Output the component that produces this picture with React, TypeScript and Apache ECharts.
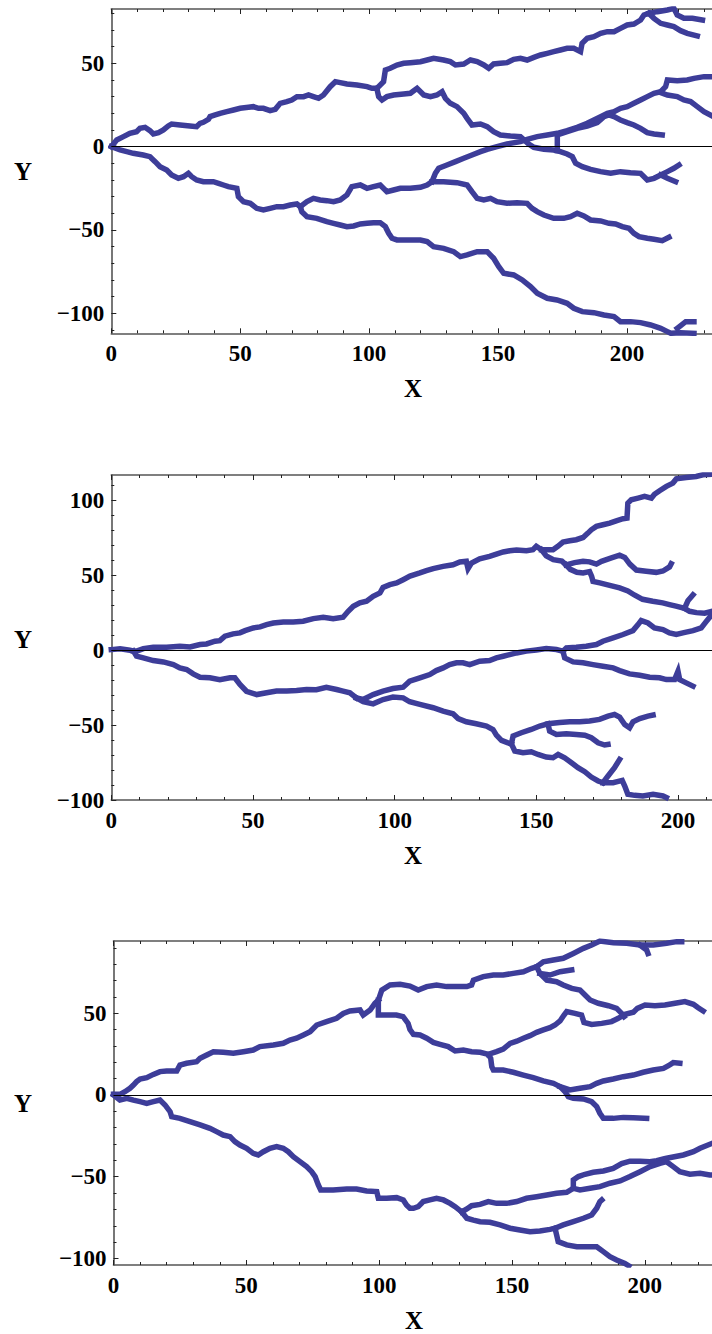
import React, { useEffect, useRef } from "react";
import * as echarts from "echarts";

// ================= DATA =================
// Tick labels
const X_TICK_LABELS = [0, 50, 100, 150, 200];
const Y_TICK_LABELS_1 = [-100, -50, 0, 50];
const Y_TICK_LABELS_2 = [-100, -50, 0, 50, 100];
const Y_TICK_LABELS_3 = [-100, -50, 0, 50];

// ---------- Panel 1 branches ----------
const p1Up = [[0,0],[2.1,4],[4.7,6],[7.2,8],[9.8,9],[11.1,11],[13.1,11.6],[15,9.6],[16.3,7.6],[18.3,8.4],[20.2,10],[22.1,12.4],[23.4,13.6],[26.7,13],[30.5,12.4],[33.1,12],[34.4,14],[35.7,14.6],[37.7,16.4],[38.3,18],[40.3,19],[42.2,20],[44.8,21],[47.4,22],[50,23],[53.2,23.6],[55.1,24],[57.1,23],[59,23],[61.6,21.6],[63.6,22.4],[65.5,26],[68.1,27],[70,28],[72,30],[74.6,30],[76.5,31],[78.4,30],[80.4,29],[82.3,31],[84.9,36],[86.9,39],[88.8,38.4],[91.4,37.6],[95.3,37],[99.2,36],[101.1,35],[103,35]];
const p1UpHigh = [[103,35],[105.6,39],[106.3,46],[108.2,47],[110.8,49],[113.4,50],[116,50.4],[119.9,51],[122.5,52],[125,53],[128.9,52],[131.5,51],[133.5,49],[136.7,49.6],[139.3,52],[141.9,51],[144.5,49],[146.4,47],[148.3,49.6],[150.9,50],[153.5,50.4],[156.1,52.4],[158.7,53],[161.3,52],[163.9,53.6],[166.5,55],[169.1,56],[171.6,57],[174.2,58],[176.8,59],[179.4,59],[182,57],[182.6,62],[184.6,65],[187.2,66],[189.8,68],[192.4,69],[195,69],[197.5,71],[200.1,73],[202.7,73.6],[205.3,76],[206.6,79],[208.5,80]];
const p1TopA = [[208.5,80],[211.8,81],[215.7,82],[218.2,83],[219.5,79],[222.1,77],[225.4,77],[229.3,76]];
const p1TopB = [[208.5,80],[210.5,77],[213.1,74],[215.7,73],[218.2,72],[220.8,69.6],[223.4,68],[227.3,66.4]];
const p1UpMid = [[103,35],[103.7,30],[105,28],[106.9,30],[109.5,31],[113.4,31.6],[116,32],[118.6,35],[121.2,31],[123.8,30],[126.3,31],[128.3,33],[129.6,29],[131.5,26],[134.1,24],[136.7,20],[138,17],[139.9,13],[143.2,13.6],[145.8,12],[148.3,9],[150.9,7],[154.8,6.4],[158.7,6],[161.9,1.6],[163.9,-0.4],[167.8,-1.6],[171.6,-2],[174.2,-3],[176.8,-4.4],[178.8,-6],[180.1,-10],[182.7,-12],[185.9,-13.6],[189.8,-15],[193.7,-16],[197.5,-15],[201.4,-15.6],[205.3,-16],[207.9,-20],[210.5,-19],[213.1,-17],[215.7,-15],[218.2,-13],[220.2,-11]];
const p1UpMidFork = [[213.1,-17],[215.7,-19],[218.9,-21]];
const p1UpMidRise = [[173,-2.3],[173,4],[173,7],[176.8,9],[180.7,11],[184.6,12.4],[188.5,14.4],[191.1,18],[193,19],[195,18],[197.5,16],[200.1,14.4],[202.7,13],[205.3,11],[207.9,8.4],[210.5,7.6],[213.7,7]];
const p1Down = [[0,0],[3.4,-2],[6,-3],[8.5,-4],[12.4,-5],[15,-6],[17,-9],[18.9,-12],[21.5,-14],[23.4,-17],[26,-19],[28,-18],[29.9,-16],[31.2,-18],[33.1,-20],[35.7,-21],[39.6,-21],[41.6,-22],[43.5,-23],[45.4,-24],[48.7,-25],[49.3,-30],[51.3,-33],[53.9,-34],[56.4,-37],[59,-38],[61.6,-37],[64.2,-36],[66.8,-36],[69.4,-35],[72,-34.4],[73.3,-36]];
const p1DownUpper = [[73.3,-36],[75.9,-33],[78.4,-31],[81,-32],[83.6,-32.4],[86.2,-33],[88.8,-32],[91.4,-29],[93.3,-24],[96.6,-23],[99.2,-25],[101.7,-24],[104.3,-23],[106.9,-27],[109.5,-26],[112.1,-25],[116,-25],[119.9,-24.4],[122.5,-23],[124.4,-21]];
const p1Rise = [[124.4,-21],[125.7,-16],[127,-13],[130.2,-11],[133.5,-9],[136.7,-7],[139.9,-5],[143.2,-3],[145.8,-1.6],[149.6,0],[153.5,1.6],[158.7,3],[161.3,4.4],[165.2,6],[169.1,7],[173,8],[176.8,9.6],[180.7,11.6],[184.6,14],[187.2,16],[189.8,18],[192.4,20],[195,21],[197.5,23],[200.1,24],[202.7,26],[205.3,28],[207.9,30],[210.5,32],[213.1,33],[215,36],[215.7,40],[219.5,39.6],[223.4,40],[226,41],[229.9,42],[233.5,42]];
const p1RiseFork = [[213.1,32.4],[215.7,31],[219.5,30],[222.1,28],[224.7,27],[227.3,24],[229.9,21],[233.5,18]];
const p1Flat = [[124.4,-21],[128.9,-21],[134.1,-21.6],[138,-23],[139.9,-27],[141.9,-31],[144.5,-32],[147.1,-31],[149.6,-33],[153.5,-34],[157.4,-33.6],[161.3,-34],[163.2,-37],[165.2,-39],[167.8,-41],[171.6,-43],[175.5,-43],[178.1,-42],[180.7,-40],[183.3,-41.6],[185.9,-44],[189.8,-44.6],[193,-46],[195.6,-46.4],[198.2,-48],[200.8,-49],[202.7,-52],[204.7,-54],[207.9,-55],[210.5,-55.6],[213.7,-56.4],[216.3,-54.4]];
const p1DownLower = [[73.3,-36],[73.9,-39],[75.9,-42],[79.7,-43],[83.6,-45],[86.2,-46],[88.8,-47],[91.4,-48],[94,-47.6],[96.6,-46.4],[99.2,-46],[101.7,-45.6],[104.3,-45.6],[106.3,-48],[107.6,-52],[108.9,-55],[110.8,-56],[113.4,-56],[116,-56],[119.9,-56],[122.5,-57],[125,-60],[128.9,-61],[132.8,-63],[135.4,-66],[138,-65],[141.9,-63],[145.8,-63],[148.3,-67],[150.3,-72],[152.2,-76],[156.1,-77],[159.4,-80],[162.6,-84],[165.2,-88],[169.1,-91],[172.9,-92],[176.8,-94],[179.4,-97],[182.7,-99],[187.2,-99.6],[191.1,-101],[195,-102],[197.5,-105],[201.4,-105],[205.3,-105.6],[209.2,-107],[213.1,-109],[215.7,-111],[217,-112],[220.8,-111.6],[226,-112]];
const p1DownLowerFork = [[219.5,-109],[222.8,-105],[226,-105]];

// ---------- Panel 2 branches ----------
const p2Trunk = [[0,0.4],[3.1,0.9],[6.6,0],[7.8,-0.5]];
const p2Up = [[7.8,-0.5],[8.9,-0.6],[11.3,1.1],[14.8,2],[19.5,2],[24.2,2.7],[27.8,2.2],[31.3,3.8],[33.6,4.2],[36.6,6],[38.3,6.4],[40.1,9.4],[43,10.9],[45.4,11.6],[47.2,13.1],[50.1,14.9],[52.5,15.6],[54.8,17.1],[57.2,18.2],[60.7,18.9],[64.2,18.9],[67.7,19.4],[71.3,21.1],[74.8,22],[78.3,21.1],[81.8,22],[83.6,26],[85.4,29.4],[87.7,31.6],[90.1,32.7],[92.4,36],[94.8,38.2],[95.9,42],[98.3,43.8],[100.7,44.9],[103,47.1],[105.4,49.5],[108.9,51.6],[111.2,53.1],[113.6,54.5],[117.1,56],[120.6,57.1],[123,58.9],[125.3,59.4],[125.9,54.5],[127.1,58.2],[130,61.1],[133.5,62.7],[135.9,64.2],[138.3,65.6],[140.6,66.4],[143,66.9],[146.5,66.4],[148.8,67.1],[150,69.4],[151.8,67.1]];
const p2UpTop = [[151.8,67.1],[155.9,67.1],[157.6,69.4],[159.4,72.2],[161.8,73.1],[164.1,73.8],[166.5,75.3],[168.2,78.2],[169.4,80.4],[171.2,82.7],[173.5,83.8],[175.9,84.9],[178.2,86.4],[180.6,87.8],[182,88.2],[182.3,98.2],[183.5,100.5],[185.9,101.6],[188.2,102.7],[190.6,101.6],[191.7,104.2],[193.5,106.5],[195.9,109.4],[198.2,111.6],[199.4,114.4],[202.9,115.3],[206.4,116],[208.8,117.1],[212,117.5]];
const p2UpMid = [[151.8,67.1],[153.5,63],[156,60.5],[159,59.5],[160.5,57]];
const p2UpMidA = [[160.5,57],[163.5,58.5],[166.5,59.4],[168.8,59],[171.2,57.5],[173,59.4],[176.5,61.6],[179.4,63.5],[181.2,62],[183,57.5],[185.3,53.5],[188.8,52.7],[192.3,52],[194.7,52.9],[197,55.6],[197.6,57.8]];
const p2UpMidB = [[160.5,57],[162,54],[164.3,52],[166.5,51.6],[168.8,52.5],[169.5,49.5],[170,46],[172.4,45],[175.9,43.3],[179.4,41.6],[182.3,39.6],[184.6,36.9],[187.5,34],[191.1,32.7],[194.6,31.6],[197,30.5],[199.3,29.4],[202.3,28],[204.1,26],[206.5,25.1],[209.4,24.7],[212,26]];
const p2UpMidBFork = [[202.3,28],[203.5,33],[205.3,37]];
const p2Down = [[7.8,-0.5],[8.9,-4],[11.3,-5.1],[14.8,-6.9],[18.4,-7.8],[21.9,-9.6],[24.2,-11.8],[26.6,-12.9],[28.9,-15.8],[31.3,-18],[34.8,-18.4],[38.3,-19.6],[41.9,-18.4],[43.6,-18.4],[45.4,-22.9],[47.7,-27.4],[51.3,-29.6],[54.8,-28.4],[58.3,-27.3],[61.9,-27.3],[65.4,-26.9],[68.9,-26.2],[72.4,-26.4],[75.9,-24.7],[79.5,-26.2],[81.8,-27.3],[84.2,-28.4],[86.5,-31.8]];
const p2DownA = [[86.5,-31.8],[88.9,-32.9],[92.4,-29.6],[95.9,-27.3],[99.4,-25.6],[103,-24.7],[105.3,-20.7],[108.9,-18.4],[112.4,-16.2],[114.7,-13.6],[117.1,-11.8],[119.4,-9.6],[121.8,-8.4],[124.1,-8.4],[126.5,-9.6],[130,-7.3],[133.5,-6.9],[135.9,-5.1],[138.3,-4],[140.6,-2.9],[143,-1.8],[146.5,-0.6],[150,0.2],[153.5,1.1],[157.1,0.5],[159.4,-0.6]];
const p2DownAFall = [[159.4,-0.6],[160,-5.1],[163,-7.8],[166.5,-8.4],[170,-9.6],[173.5,-10.7],[177.1,-11.8],[179.4,-13.6],[182.9,-15.8],[186.5,-16.7],[190,-18],[193.5,-18.4],[195.9,-19.6],[198.8,-19.6],[200,-14],[200.6,-19.6],[202.9,-21.8],[205.3,-24]];
const p2DownARise = [[159.4,-0.6],[160.6,1.6],[164.1,2],[167.6,2.7],[171.2,3.8],[173.5,6],[177.1,8.2],[180.6,10.5],[184.1,13.1],[185.9,17.1],[187,19.8],[189.4,18.2],[191.7,14.9],[194.7,13.8],[197,11.6],[199.4,10.5],[201.7,11.6],[205.3,13.1],[208.2,14.9],[210,19.3],[212,24]];
const p2DownB = [[86.5,-31.8],[88.9,-34.4],[92.4,-35.8],[95.9,-32.9],[99.4,-31.3],[103,-31.8],[105.3,-34.4],[108.9,-36.2],[113.6,-38.4],[117.1,-40.7],[120.6,-42.4],[122.4,-45.6],[125.3,-47.8],[128.8,-49.1],[132.4,-50.6],[134.7,-52.9],[135.9,-56.7],[137.7,-60.2],[140,-61.8],[141.2,-62.5]];
const p2DownBUp = [[141.2,-62.5],[141.8,-57.3],[144.7,-55.1],[148.2,-52.9],[151.2,-50.6],[154.1,-49.1],[158.2,-48.2],[161.8,-47.8],[165.3,-47.8],[168.8,-47.3],[172.3,-46.2],[175.3,-44],[177.6,-42.9],[179.4,-44.7],[181.2,-49.6],[182.9,-51.8],[184.1,-47.8],[186.5,-45.6],[189.4,-44],[191.2,-43.3]];
const p2DownBUpFork = [[154.1,-49.1],[154.7,-54],[157.1,-56.2],[160.6,-55.8],[164.1,-56.2],[167.1,-56.7],[169.4,-58.4],[171.8,-61.8],[174.1,-63.3],[175.3,-62.9]];
const p2DownBLow = [[141.2,-62.5],[142.4,-67.3],[145.3,-68.4],[148.2,-67.8],[150.6,-69.6],[153.5,-71.3],[155.9,-71.8],[157.7,-69.6],[160,-71.8],[162.4,-75.1],[164.7,-78.4],[167.1,-81.1],[169.4,-84.7],[171.8,-87.3],[173.5,-88.4]];
const p2DownBLowUp = [[173.5,-88.4],[175.3,-84],[177.6,-78.4],[179.4,-72.9]];
const p2DownBLowDown = [[173.5,-88.4],[177.1,-88.4],[180.3,-86.9],[181.2,-90.7],[182.3,-96.2],[184.7,-96.9],[187.6,-97.3],[191.2,-96.2],[194.7,-97.3],[195.9,-98.4]];

// ---------- Panel 3 branches ----------
const p3Up = [[0,0.4],[2.4,0.4],[4.3,2],[6.2,4.1],[7.5,6.1],[8.7,8.2],[10,9.8],[12.5,10.6],[15,12.6],[17.5,14.3],[20,14.7],[23.8,14.7],[25,18.3],[27.5,19.4],[31.3,20.4],[32.6,22.4],[35.1,24.5],[37.6,26.5],[41.3,26.1],[45.1,25.5],[48.9,26.5],[52.6,27.5],[55.1,29.6],[60.2,30.6],[63.9,31.6],[66.4,33.6],[68.9,34.7],[71.5,36.7],[74,38.7],[76.5,42.8],[80.2,44.9],[84,46.9],[86.5,49.9],[89,51.4],[92.8,52],[94,48.9],[96.6,52],[98.4,56.1],[99.7,58]];
const p3UpHigh = [[99.7,58],[101,64.2],[104.1,67.3],[107.9,67.7],[111.6,66.6],[114.7,64.2],[117.9,66.3],[121.6,67.3],[125.4,66.3],[129.2,66.3],[133,66.3],[134.8,67.3],[135.5,70.3],[139.2,72.4],[143,73.4],[146.7,73.4],[150.5,74.4],[154.3,75.4],[157.4,77.5],[159.3,78.5]];
const p3UpTop = [[159.3,78.5],[161.8,81.5],[165.6,82.6],[169.3,83.6],[173.1,86.6],[176.9,89.7],[180,91.7],[183.1,94.2],[188.2,93.2],[193.2,92.8],[198.2,91.7],[203.2,91.7],[208.2,92.8],[212,93.8],[213.9,93.8]];
const p3UpTopDrop = [[198.2,91.7],[200.7,88.7],[201.2,86.5]];
const p3UpMid = [[159.3,78.5],[160.5,74.4],[163.1,70.3],[166.8,69.3],[169.3,67.3],[172.5,65.2],[175.6,64.2],[177.5,61.2],[179.4,58.1],[182.5,56.1],[186.3,54.6],[189.4,53],[191.3,49.9],[192.2,47.9]];
const p3UpStub = [[160.5,74.4],[164.3,73.4],[168.1,75.4],[172.5,76.5]];
const p3UpLow = [[99.7,58],[99.7,48.9],[102.8,48.9],[106.5,48.9],[109,47.9],[110.9,43.8],[111.6,40],[112.9,37.1],[115.4,36.7],[117.9,34.7],[120.4,32.2],[122.9,31],[126,29.6],[128.6,26.9],[131.7,27.5],[134.8,26.5],[138,26.1],[141.1,24.9],[142,22.4],[142.4,17.3],[143,15.3],[146.7,15.3],[150.5,13.9],[154.3,12.2],[158,10.6],[161.8,8.6],[165.6,7.1],[168.1,5.1],[170,2],[171.2,-1],[173.1,-2],[176.9,-2.4],[180,-4.1],[181.9,-7.1],[183.1,-11.2],[184.4,-14.3],[188.1,-14.3],[191.9,-13.7],[195.7,-13.9],[200.7,-14.3]];
const p3UpLowRise = [[141.1,24.9],[144.2,26.5],[146.7,28.1],[149.3,31.6],[151.8,32.9],[154.3,34.7],[156.8,36.3],[159.3,38.3],[161.8,39.8],[164.3,41.2],[166.2,42.8],[168.1,45.3],[169.6,48.9],[170.6,51],[173.7,49.9],[176.2,48.9],[177.1,44.4],[180,43.2],[183.8,43.8],[187.5,44.9],[190,46.9],[192.5,49.3],[195.7,50.6],[197.2,53],[200.1,55],[203.8,54.6],[207.6,55],[211.4,56.1],[215.1,57.1],[218.3,55.5],[220.1,53.4],[222,51.4]];
const p3UpLowZero = [[168.1,5.1],[171.8,3.1],[175.6,4.1],[179.4,5.1],[181.9,7.1],[184.4,8.6],[188.1,9.8],[191.9,11.2],[195.7,12.2],[199.4,13.9],[203.2,15.3],[207,16.3],[208.9,17.9],[210.7,19.8],[213.2,19.4]];
const p3Down = [[0,0],[2.4,-3.1],[5,-2],[7.5,-3.1],[10,-4.1],[12.5,-5.1],[15,-4.1],[17.5,-3.1],[19.4,-6.1],[21.3,-10.2],[21.9,-13.3],[25,-14.3],[28.8,-16.3],[32.6,-18.3],[36.3,-20.4],[38.8,-22.4],[41.3,-24.5],[43.9,-25.5],[45.7,-28.5],[47.6,-30.6],[50.1,-32.6],[52.6,-35.7],[54.5,-36.7],[56.4,-34.7],[58.9,-32.6],[61.4,-31.6],[63.9,-32.6],[65.8,-34.7],[67.7,-37.7],[70.2,-40.8],[72.7,-43.8],[74.6,-46.9],[75.9,-49.9],[77.1,-55],[78,-58.1],[82.7,-58.1],[87.8,-57.5],[91.5,-57.5],[95.3,-58.7],[99.1,-59.1],[99.7,-63.2],[102.8,-63.2],[106.6,-62.8],[109.1,-64.2],[110.3,-67.3],[111.6,-69.3],[112.9,-69.3],[114.7,-68.3],[116.6,-65.2],[119.1,-64.2],[121.6,-63.2],[124.2,-64.2],[126.7,-66.3],[128.6,-68.3],[131.1,-71.5]];
const p3DownA = [[131.1,-71.5],[133,-69.7],[134.8,-67.7],[138,-66.9],[141.1,-65.2],[144.2,-66.3],[148,-66.3],[151.8,-65.2],[155.5,-63.2],[159.3,-62.2],[163.1,-61.2],[166.8,-60.1],[170.6,-59.5],[173.1,-57.1]];
const p3DownA1 = [[173.1,-57.1],[173.1,-52],[175,-49.9],[177.5,-48.5],[180.6,-47.3],[184.4,-46.5],[188.1,-44.9],[191.3,-42],[194.4,-40.5],[198.2,-40.5],[201.9,-40.8],[204.5,-40.2],[207,-39.1],[208.2,-38.7],[214.5,-36.7],[218.3,-34.7],[220.8,-32.6],[225.3,-29.6]];
const p3DownA2 = [[173.1,-57.1],[175.6,-58.1],[179.4,-57.1],[183.1,-56.1],[186.9,-54],[190.7,-52.6],[194.4,-49.9],[198.2,-46.9],[202,-43.8],[205.7,-41.8],[208.2,-40.8],[210.7,-43.8],[213.2,-46.9],[217,-48.5],[220.8,-47.9],[224.5,-48.9],[225.3,-49]];
const p3DownB = [[131.1,-71.5],[133,-75.4],[135.5,-76.5],[138,-77.5],[141.7,-77.9],[145.5,-79.5],[149.3,-81.5],[153,-82.6],[156.8,-83.6],[160.5,-83.2],[164.3,-82.2],[166.2,-81.5]];
const p3DownBUp = [[166.2,-81.5],[169.3,-79.5],[173.1,-77.5],[176.9,-75.4],[180,-73.4],[181.9,-69.3],[183.1,-65.2],[183.8,-64.2]];
const p3DownBDown = [[166.2,-81.5],[166.8,-85.6],[167.4,-89.7],[170.6,-91.7],[174.4,-92.8],[178.1,-92.8],[181.9,-92.8],[184.4,-95.8],[186.9,-98.9],[189.4,-100.9],[192.5,-103],[194,-104.5]];

const PANEL1_BRANCHES = [p1Up, p1UpHigh, p1TopA, p1TopB, p1UpMid, p1UpMidFork, p1UpMidRise, p1Down, p1DownUpper, p1Rise, p1RiseFork, p1Flat, p1DownLower, p1DownLowerFork];
const PANEL2_BRANCHES = [p2Trunk, p2Up, p2UpTop, p2UpMid, p2UpMidA, p2UpMidB, p2UpMidBFork, p2Down, p2DownA, p2DownAFall, p2DownARise, p2DownB, p2DownBUp, p2DownBUpFork, p2DownBLow, p2DownBLowUp, p2DownBLowDown];
const PANEL3_BRANCHES = [p3Up, p3UpHigh, p3UpTop, p3UpTopDrop, p3UpMid, p3UpStub, p3UpLow, p3UpLowRise, p3UpLowZero, p3Down, p3DownA, p3DownA1, p3DownA2, p3DownB, p3DownBUp, p3DownBDown];

// ================= LAYOUT / STYLE =================
const LINE_COLOR = "#3d3d99";
const FRAME_COLOR = "#555555";
const FONT = "'Liberation Serif', 'Times New Roman', serif";

const PANELS = [
  { branches: PANEL1_BRANCHES, xMax: 233, yMin: -112, yMax: 82.6, yLabels: Y_TICK_LABELS_1,
    left: 111.3, top: 9, width: 600.7, height: 324.3, xName: [413, 388], yName: [23, 171] },
  { branches: PANEL2_BRANCHES, xMax: 212, yMin: -100, yMax: 117, yLabels: Y_TICK_LABELS_2,
    left: 111.3, top: 475, width: 600.7, height: 325, xName: [413, 855], yName: [23, 639] },
  { branches: PANEL3_BRANCHES, xMax: 225.3, yMin: -104, yMax: 94.2, yLabels: Y_TICK_LABELS_3,
    left: 113.5, top: 941, width: 598.5, height: 324, xName: [414, 1320], yName: [23, 1103] },
];

function ticksBetween(lo: number, hi: number, step: number, keepMajor: boolean) {
  const out: number[] = [];
  const start = Math.ceil(lo / step) * step;
  for (let v = start; v <= hi + 1e-9; v += step) {
    const isMajor = Math.abs(v % 50) < 1e-9;
    if (keepMajor === isMajor) out.push(v);
  }
  return out;
}

const fmt = (v: number) => (v < 0 ? "\u2212" + Math.abs(v) : String(v));

function buildOption() {
  const grid: any[] = [];
  const xAxis: any[] = [];
  const yAxis: any[] = [];
  const series: any[] = [];
  const graphic: any[] = [];

  PANELS.forEach((p, i) => {
    grid.push({ left: p.left, top: p.top, width: p.width, height: p.height, containLabel: false });
    const xMaj = ticksBetween(0, p.xMax, 10, true);
    const xMin = ticksBetween(0, p.xMax, 10, false);
    const yMaj = ticksBetween(p.yMin, p.yMax, 10, true);
    const yMin = ticksBetween(p.yMin, p.yMax, 10, false);
    const baseX = {
      gridIndex: i, type: "value", min: 0, max: p.xMax, splitLine: { show: false },
    };
    const baseY = {
      gridIndex: i, type: "value", min: p.yMin, max: p.yMax, splitLine: { show: false },
    };
    const tickStyle = { color: "#222", width: 1 };
    xAxis.push({
      ...baseX, position: "bottom",
      axisLine: { show: true, onZero: false, lineStyle: { color: FRAME_COLOR, width: 1.6 } },
      axisTick: { show: true, inside: true, length: 5, customValues: xMaj, lineStyle: tickStyle },
      axisLabel: {
        show: true, customValues: X_TICK_LABELS, formatter: fmt, margin: 9,
        color: "#000", fontFamily: FONT, fontWeight: "bold", fontSize: 23,
      },
    });
    xAxis.push({
      ...baseX, position: "bottom",
      axisLine: { show: false, onZero: false },
      axisTick: { show: true, inside: true, length: 3, customValues: xMin, lineStyle: tickStyle },
      axisLabel: { show: false },
    });
    xAxis.push({
      ...baseX, position: "top",
      axisLine: { show: true, onZero: false, lineStyle: { color: FRAME_COLOR, width: 1.6 } },
      axisTick: { show: true, inside: true, length: 5, customValues: xMaj, lineStyle: tickStyle },
      axisLabel: { show: false },
    });
    xAxis.push({
      ...baseX, position: "top",
      axisLine: { show: false, onZero: false },
      axisTick: { show: true, inside: true, length: 3, customValues: xMin, lineStyle: tickStyle },
      axisLabel: { show: false },
    });
    yAxis.push({
      ...baseY, position: "left",
      axisLine: { show: true, onZero: false, lineStyle: { color: FRAME_COLOR, width: 1.6 } },
      axisTick: { show: true, inside: true, length: 5, customValues: yMaj, lineStyle: tickStyle },
      axisLabel: {
        show: true, customValues: p.yLabels, formatter: fmt, margin: 7,
        color: "#000", fontFamily: FONT, fontWeight: "bold", fontSize: 23,
      },
    });
    yAxis.push({
      ...baseY, position: "left",
      axisLine: { show: false, onZero: false },
      axisTick: { show: true, inside: true, length: 3, customValues: yMin, lineStyle: tickStyle },
      axisLabel: { show: false },
    });

    p.branches.forEach((b) => {
      series.push({
        type: "line", xAxisIndex: i * 4, yAxisIndex: i * 2, data: b,
        showSymbol: false, symbol: "none", silent: true, clip: true,
        lineStyle: { color: LINE_COLOR, width: 5.5, join: "miter", cap: "square" },
        z: 2,
      });
    });
    series.push({
      type: "line", xAxisIndex: i * 4, yAxisIndex: i * 2, data: [],
      silent: true, z: 3,
      markLine: {
        silent: true, symbol: "none", label: { show: false },
        lineStyle: { color: "#000", width: 1, type: "solid" },
        data: [{ yAxis: 0 }],
      },
    });

    graphic.push({
      type: "text", x: p.xName[0], y: p.xName[1],
      style: { text: "X", font: `bold 25px ${FONT}`, fill: "#000", textAlign: "center", textVerticalAlign: "middle" },
    });
    graphic.push({
      type: "text", x: p.yName[0], y: p.yName[1],
      style: { text: "Y", font: `bold 25px ${FONT}`, fill: "#000", textAlign: "center", textVerticalAlign: "middle" },
    });
  });

  return {
    animation: false,
    backgroundColor: "#ffffff",
    grid, xAxis, yAxis, series, graphic,
  };
}

export default function App() {
  const ref = useRef<HTMLDivElement>(null);
  useEffect(() => {
    if (!ref.current) return;
    const chart = echarts.init(ref.current, undefined, { renderer: "svg" });
    chart.setOption(buildOption() as any);
    return () => chart.dispose();
  }, []);
  return (
    <div
      ref={ref}
      style={{ position: "absolute", left: 0, top: 0, width: 712, height: 1334, background: "#fff" }}
    />
  );
}
